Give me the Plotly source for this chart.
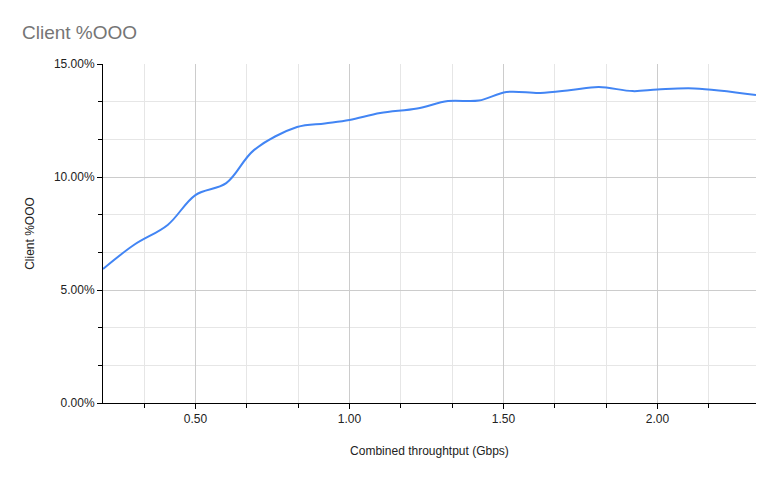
import plotly.graph_objects as go

throughput = [0.20, 0.30, 0.41, 0.50, 0.60, 0.69, 0.83, 0.92, 1.00, 1.10, 1.22, 1.32,
              1.42, 1.51, 1.62, 1.72, 1.81, 1.92, 2.00, 2.12, 2.32]
client_ooo = [0.0593, 0.0699, 0.0788, 0.0920, 0.0973, 0.1119, 0.1221, 0.1237, 0.1252,
              0.1283, 0.1303, 0.1336, 0.1338, 0.1376, 0.1372, 0.1385, 0.1398, 0.1380,
              0.1387, 0.1392, 0.1363]

x_ticks = [0.5, 1.0, 1.5, 2.0]
x_tick_labels = ["0.50", "1.00", "1.50", "2.00"]
y_ticks = [0.0, 0.05, 0.10, 0.15]
y_tick_labels = ["0.00%", "5.00%", "10.00%", "15.00%"]

fig = go.Figure()
fig.add_trace(go.Scatter(
    x=throughput, y=client_ooo, mode="lines",
    line=dict(color="#4285f4", width=2, shape="spline", smoothing=1.0),
    showlegend=False,
))

W, H = 778, 481
font = "Arial, 'Liberation Sans', sans-serif"
fig.update_layout(
    width=W, height=H,
    margin=dict(l=95, r=30, t=56, b=86),
    paper_bgcolor="white", plot_bgcolor="white",
    title=dict(text="Client %OOO", x=14/W, xanchor="left", y=1-24/H, yanchor="middle",
               font=dict(family=font, size=19, color="#757575")),
    font=dict(family=font, size=11, color="#222222"),
    xaxis=dict(
        range=[0.2, 2.32], tickvals=x_ticks, ticktext=x_tick_labels,
        showgrid=True, gridcolor="#cccccc", gridwidth=1,
        showline=True, linecolor="#000000", linewidth=1,
        ticks="outside", ticklen=5, tickcolor="#000000",
        zeroline=False,
        minor=dict(tick0=0, dtick=1/6, showgrid=True, gridcolor="#e6e6e6",
                   ticks="outside", ticklen=4, tickcolor="#000000"),
        title=dict(text="Combined throughtput (Gbps)", font=dict(size=12, color="#222222"), standoff=21),
        tickfont=dict(size=12),
    ),
    yaxis=dict(
        range=[0, 0.15], tickvals=y_ticks, ticktext=y_tick_labels,
        showgrid=True, gridcolor="#cccccc", gridwidth=1,
        showline=True, linecolor="#000000", linewidth=1,
        ticks="outside", ticklen=5, tickcolor="#000000",
        zeroline=False,
        minor=dict(tick0=0, dtick=0.05/3, showgrid=True, gridcolor="#e6e6e6",
                   ticks="outside", ticklen=4, tickcolor="#000000"),
        title=dict(text="Client %OOO", font=dict(size=12, color="#222222"), standoff=16),
        tickfont=dict(size=12),
    ),
)

fig.write_html("out.html")
